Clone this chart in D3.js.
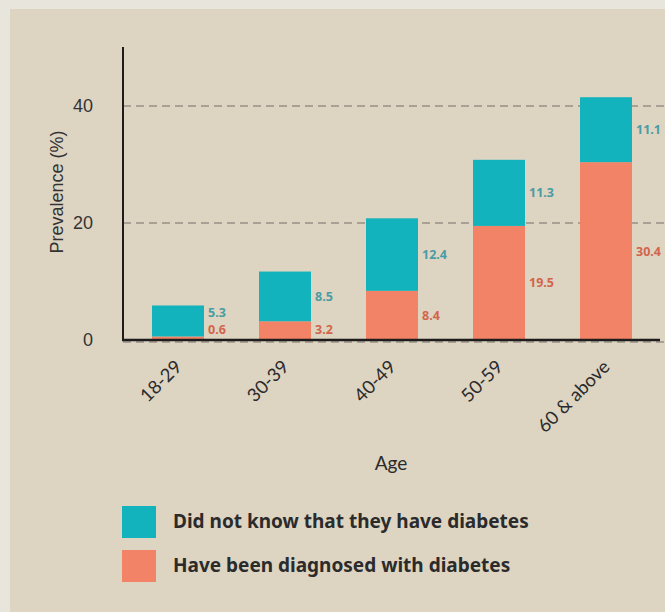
<!DOCTYPE html>
<html>
<head>
<meta charset="utf-8">
<script src="https://cdn.jsdelivr.net/npm/d3@7"></script>
<style>
  html, body { margin: 0; padding: 0; background: #e8e5dc; }
  svg { display: block; }
</style>
</head>
<body>
<div id="chart"></div>
<script>
// data
const ages = ["18-29", "30-39", "40-49", "50-59", "60 & above"];
const diagnosed = [0.6, 3.2, 8.4, 19.5, 30.4];
const undiagnosed = [5.3, 8.5, 12.4, 11.3, 11.1];
const yTicks = [0, 20, 40];
const legendLabels = ["Did not know that they have diabetes", "Have been diagnosed with diabetes"];

const width = 665, height = 612;
const teal = "#12b3bc", salmon = "#f38366";
const tealText = "#4a9ca4", salmonText = "#d2654b";

const svg = d3.select("#chart")
    .append("svg")
    .attr("width", width)
    .attr("height", height);

// panel
svg.append("rect")
    .attr("x", 10).attr("y", 9)
    .attr("width", width - 10).attr("height", height - 9)
    .attr("fill", "#ddd4c2");

const x = d3.scaleBand()
    .domain(ages)
    .range([124.5, 659.5])
    .paddingInner(0.514)
    .paddingOuter(0.257);

const y = d3.scaleLinear([0, 50], [340, 47.5]);

// dashed gridlines
svg.selectAll(".grid")
    .data(yTicks)
    .enter()
    .append("line")
    .attr("class", "grid")
    .attr("x1", 123).attr("x2", width)
    .attr("y1", d => y(d) + (d === 0 ? 2 : 0))
    .attr("y2", d => y(d) + (d === 0 ? 2 : 0))
    .attr("stroke", "#a9a196")
    .attr("stroke-width", 2)
    .attr("stroke-dasharray", "8,5");

// y tick labels
svg.selectAll(".ytick")
    .data(yTicks)
    .enter()
    .append("text")
    .attr("class", "ytick")
    .attr("x", 93)
    .attr("y", d => y(d))
    .attr("dy", "0.36em")
    .attr("text-anchor", "end")
    .style("font-family", "'Liberation Sans', Arial, sans-serif")
    .style("font-size", "18px")
    .attr("fill", "#333")
    .text(d => d);

svg.append("text")
    .attr("transform", "translate(63,192) rotate(-90)")
    .attr("text-anchor", "middle")
    .style("font-family", "'Liberation Sans', Arial, sans-serif")
    .style("font-size", "18px")
    .attr("fill", "#333")
    .text("Prevalence (%)");

// stacked bars
const rows = ages.map((a, i) => ({age: a, dx: diagnosed[i], un: undiagnosed[i]}));

svg.selectAll(".bar-dx")
    .data(rows)
    .enter()
    .append("rect")
    .attr("class", "bar-dx")
    .attr("x", d => x(d.age))
    .attr("width", x.bandwidth())
    .attr("y", d => y(d.dx))
    .attr("height", d => y(0) - y(d.dx))
    .attr("fill", salmon);

svg.selectAll(".bar-un")
    .data(rows)
    .enter()
    .append("rect")
    .attr("class", "bar-un")
    .attr("x", d => x(d.age))
    .attr("width", x.bandwidth())
    .attr("y", d => y(d.dx + d.un))
    .attr("height", d => y(d.dx) - y(d.dx + d.un))
    .attr("fill", teal);

// value labels, nudged apart when a segment is thin
const dxLabelY = d => Math.min((y(0) + y(d.dx)) / 2, y(0) - 11);
const unLabelY = d => Math.min((y(d.dx) + y(d.dx + d.un)) / 2, dxLabelY(d) - 17);

svg.selectAll(".lab-dx")
    .data(rows)
    .enter()
    .append("text")
    .attr("class", "lab-dx")
    .attr("x", d => x(d.age) + x.bandwidth() + 4)
    .attr("y", dxLabelY)
    .attr("dy", "0.36em")
    .style("font-family", "'Noto Sans', sans-serif")
    .style("font-weight", "bold")
    .style("font-size", "12.5px")
    .attr("fill", salmonText)
    .text(d => d.dx.toFixed(1));

svg.selectAll(".lab-un")
    .data(rows)
    .enter()
    .append("text")
    .attr("class", "lab-un")
    .attr("x", d => x(d.age) + x.bandwidth() + 4)
    .attr("y", unLabelY)
    .attr("dy", "0.36em")
    .style("font-family", "'Noto Sans', sans-serif")
    .style("font-weight", "bold")
    .style("font-size", "12.5px")
    .attr("fill", tealText)
    .text(d => d.un.toFixed(1));

// axes lines
svg.append("line")
    .attr("x1", 123).attr("x2", 123)
    .attr("y1", 47).attr("y2", 341)
    .attr("stroke", "#1f1c1c")
    .attr("stroke-width", 2);

svg.append("line")
    .attr("x1", 122).attr("x2", 660)
    .attr("y1", 340).attr("y2", 340)
    .attr("stroke", "#1f1c1c")
    .attr("stroke-width", 2.5);

// x tick labels, rotated
svg.selectAll(".xtick")
    .data(ages)
    .enter()
    .append("text")
    .attr("class", "xtick")
    .attr("transform", d => `translate(${x(d) + x.bandwidth() / 2 + 5},368) rotate(-45)`)
    .attr("text-anchor", "end")
    .style("font-family", "Lato, sans-serif")
    .style("font-size", "18.5px")
    .attr("fill", "#2b2b2b")
    .text(d => d);

svg.append("text")
    .attr("x", 391)
    .attr("y", 470)
    .attr("text-anchor", "middle")
    .style("font-family", "Lato, sans-serif")
    .style("font-size", "19px")
    .attr("fill", "#2b2b2b")
    .text("Age");

// legend
const legend = svg.selectAll(".legend")
    .data(legendLabels)
    .enter()
    .append("g")
    .attr("class", "legend")
    .attr("transform", (d, i) => `translate(122,${506 + i * 44})`);

legend.append("rect")
    .attr("width", 34)
    .attr("height", 32)
    .attr("fill", (d, i) => i === 0 ? teal : salmon);

legend.append("text")
    .attr("x", 51)
    .attr("y", 22)
    .style("font-family", "'Noto Sans', sans-serif")
    .style("font-weight", "bold")
    .style("font-size", "19px")
    .attr("fill", "#2b2b2b")
    .text(d => d);
</script>
</body>
</html>
